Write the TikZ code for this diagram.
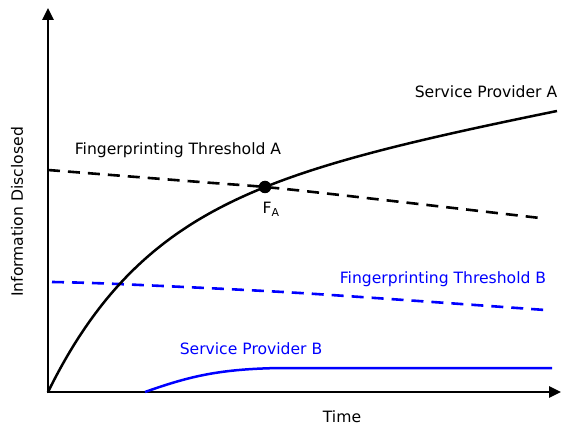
\documentclass[tikz,border=0pt]{standalone}
\usepackage{fontspec}
\setmainfont{DejaVu Sans}
\usetikzlibrary{arrows.meta}
\begin{document}
\begin{tikzpicture}[x=1pt,y=-1pt,
  axis/.style={line width=2.6pt,-{Triangle[length=12pt,width=11pt]}},
  curve/.style={line width=2.5pt},
  thr/.style={line width=2.6pt,dash pattern=on 12pt off 8pt},
  lab/.style={font=\fontsize{15.6}{18}\selectfont,inner sep=0pt}]
\useasboundingbox (0,0) rectangle (561,427);
\coordinate (O) at (48,392);
\coordinate (ytop) at (48,8);
\coordinate (xend) at (561,392);
\draw[axis] ([yshift=-1.3pt]O) -- (ytop);
\draw[axis] ([xshift=-1.3pt]O) -- (xend);
% Threshold A
\draw[thr] plot[smooth] coordinates {(48,170) (200,182) (265,187) (340,195) (540,218)};
% Threshold B
\draw[thr,blue] plot[smooth] coordinates {(52,282) (118,284) (300,293) (545,310)};
% Service Provider A
\draw[curve] plot[domain=0:509,samples=120,smooth] ({48+\x},{392-184.2*(1-exp(-\x/100))-0.1924*\x});
% Service Provider B
\draw[curve,blue] (145,392) .. controls (190,376) and (220,369) .. (280,368) -- (552,368);
\node[circle,fill=black,inner sep=0pt,minimum size=12.5pt] (FA) at (265,187) {};
\node[lab] (lSA) at (486,92) {Service Provider A};
\node[lab] (lTA) at (178,150) {Fingerprinting Threshold A};
\node[lab] (lF) at (271,209) {F\textsubscript{A}};
\node[lab,blue] (lTB) at (443,279) {Fingerprinting Threshold B};
\node[lab,blue] (lSB) at (251,349) {Service Provider B};
\node[lab] (lT) at (342,417) {Time};
\node[lab,rotate=90] (lI) at (17,212) {Information Disclosed};
\end{tikzpicture}
\end{document}
